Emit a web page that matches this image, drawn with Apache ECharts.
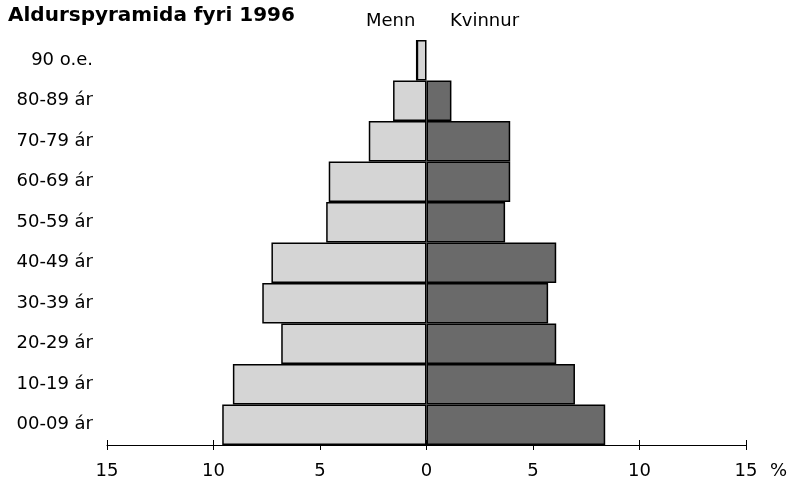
<!DOCTYPE html>
<html>
<head>
<meta charset="utf-8">
<script src="https://cdn.jsdelivr.net/npm/echarts@6/dist/echarts.min.js"></script>
<style>
  html, body { margin: 0; padding: 0; background: #fff; }
  #chart { width: 799px; height: 481px; }
</style>
</head>
<body>
<div id="chart"></div>
<script>
// aldursbólkar, frá botni og upp
let AGE_GROUPS = ['00-09 ár', '10-19 ár', '20-29 ár', '30-39 ár', '40-49 ár',
                  '50-59 ár', '60-69 ár', '70-79 ár', '80-89 ár', '90 o.e.'];
// prosent
let MEN   = [9.59, 9.09, 6.82, 7.71, 7.28, 4.71, 4.59, 2.71, 1.57, 0.46];
let WOMEN = [8.39, 6.97, 6.09, 5.71, 6.09, 3.69, 3.93, 3.93, 1.17, 0];
let X_MIN = -15, X_MAX = 15, X_STEP = 5;

let FONT = '"DejaVu Sans", sans-serif';
let GRID = { left: 107, right: 53, top: 40, bottom: 36 };

function label(text, left, top, size, weight){
    return {
        text: text, left: left, top: top, padding: 0,
        textStyle: { fontSize: size, fontWeight: weight || 'normal', color: '#000', fontFamily: FONT }
    };
}

function initPyramid(chart){
    let plotHeight = 481 - GRID.top - GRID.bottom;
    let xBase = {
        type: 'value',
        min: X_MIN,
        max: X_MAX,
        interval: X_STEP,
        splitLine: { show: false }
    };
    chart.setOption({
        animation: false,
        textStyle: { fontFamily: FONT },
        title: [
            label('Aldurspyramida fyri 1996', 8, 6, 20, 'bold'),
            label('Menn', 366, 12, 18),
            label('Kvinnur', 450, 12, 18),
            label('%', 770, 462, 18)
        ],
        grid: GRID,
        xAxis: [
            Object.assign({}, xBase, {
                position: 'bottom',
                axisLine: { show: true, lineStyle: { color: '#000', width: 1 } },
                axisTick: { show: true, length: 5, lineStyle: { color: '#000' } },
                axisLabel: {
                    margin: 17, fontSize: 18, color: '#000', fontFamily: FONT,
                    formatter: function(v){ return Math.abs(v); }
                }
            }),
            // øvri helvtin av strikunum, somu linju
            Object.assign({}, xBase, {
                position: 'top',
                offset: -plotHeight,
                axisLine: { show: false },
                axisTick: { show: true, length: 5, lineStyle: { color: '#000' } },
                axisLabel: { show: false }
            })
        ],
        yAxis: {
            type: 'category',
            data: AGE_GROUPS,
            axisLine: { show: false },
            axisTick: { show: false },
            axisLabel: { margin: 14, fontSize: 18, color: '#000', fontFamily: FONT }
        },
        series: [
            {
                name: 'Menn',
                type: 'bar',
                stack: 'pyramid',
                barCategoryGap: 0,
                data: MEN.map(function(v){ return -v; }),
                itemStyle: { color: '#d5d5d5', borderColor: '#000', borderWidth: 1.5 }
            },
            {
                name: 'Kvinnur',
                type: 'bar',
                stack: 'pyramid',
                barCategoryGap: 0,
                data: WOMEN,
                itemStyle: { color: '#6a6a6a', borderColor: '#000', borderWidth: 1.5 }
            }
        ]
    });
}

let chart = echarts.init(document.getElementById('chart'));
initPyramid(chart);
</script>
</body>
</html>
